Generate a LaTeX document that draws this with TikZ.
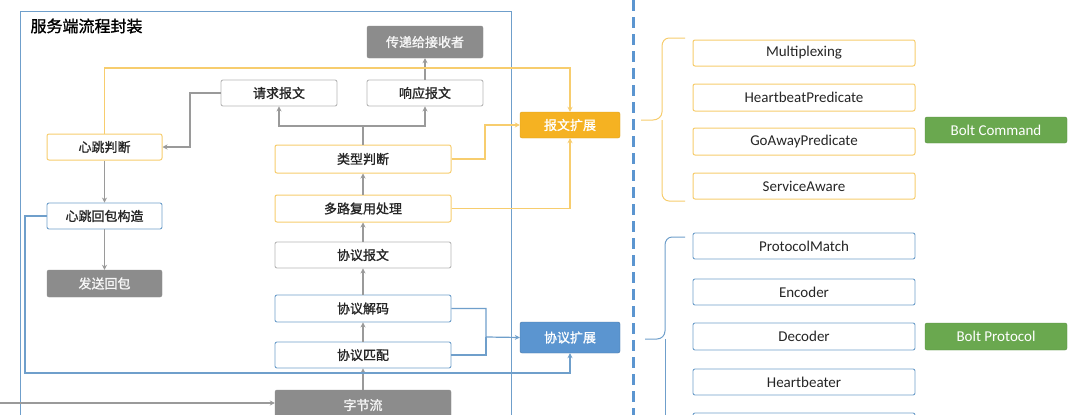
\documentclass[tikz,border=0pt]{standalone}
\usepackage{fontspec}
\setmainfont{Carlito}
\newfontfamily\cjk[FakeBold=1.2]{Noto Sans CJK SC}
\usetikzlibrary{arrows.meta}
\definecolor{gy}{HTML}{9A9A9A}
\definecolor{gyf}{HTML}{8C8C8C}
\definecolor{yl}{HTML}{F7CD6E}
\definecolor{org}{HTML}{F5B222}
\definecolor{bl}{HTML}{6F9FCB}
\definecolor{blf}{HTML}{5B95D0}
\definecolor{gr}{HTML}{6AA84F}
\tikzset{
 box/.style={draw, rounded corners=2pt, fill=white, inner sep=0pt, font=\cjk\fontsize{13}{13}\selectfont, text=black!85},
 ybox/.style={box, draw=yl, line width=1pt},
 bbox/.style={box, draw=bl, line width=0.9pt},
 kbox/.style={box, draw=gy!70, line width=0.9pt},
 gbox/.style={box, draw=gyf, fill=gyf, text=white!92!gyf},
 efont/.style={font=\fontsize{15}{15}\selectfont},
 garr/.style={draw=gy, line width=1.4pt, -{Stealth[length=5pt,width=5pt]}},
 yarr/.style={draw=yl, line width=1.2pt, -{Stealth[length=5pt,width=5pt]}},
 barr/.style={draw=bl, line width=1.2pt, -{Stealth[length=5pt,width=5pt]}},
}
\newcommand{\bx}[7]{\node[#1, minimum width=#4-#2, minimum height=#5-#3] (#6) at ({(#2+#4)/2},{(#3+#5)/2}) {#7};}
\begin{document}
\begin{tikzpicture}[x=1pt,y=-1pt]
\useasboundingbox[fill=white] (0,0) rectangle (1080,415);
% outer frame
\draw[bl, line width=1pt] (20,430) -- (20,11) -- (511,11) -- (511,430);
\node[anchor=west, font=\cjk\fontsize{16}{16}\selectfont] (title) at (27,26) {服务端流程封装};
\draw[blf, line width=3pt, dash pattern=on 11pt off 6pt] (633,0) -- (633,415);
% nodes
\bx{gbox}{367}{26}{483}{58}{recv}{传递给接收者}
\bx{kbox}{221}{80}{337}{106}{req}{请求报文}
\bx{kbox}{367}{80}{483}{106}{resp}{响应报文}
\bx{ybox}{47}{134}{162}{160}{hb}{心跳判断}
\bx{ybox}{275}{145}{451}{173}{typ}{类型判断}
\bx{bbox}{47}{203}{162}{229}{hbr}{心跳回包构造}
\bx{ybox}{275}{195}{451}{222}{mux}{多路复用处理}
\bx{kbox}{275}{242}{451}{268}{pm}{协议报文}
\bx{gbox}{47}{270}{162}{297}{send}{发送回包}
\bx{bbox}{275}{295}{451}{322}{dec}{协议解码}
\bx{bbox}{275}{342}{451}{368}{mat}{协议匹配}
\bx{gbox}{275}{390}{451}{420}{bytes}{字节流}
\bx{box, draw=org!90!black, fill=org, text=white}{520}{112}{620}{138}{msgx}{报文扩展}
\bx{box, draw=blf!80!black, fill=blf, text=white}{520}{322}{620}{353}{prox}{协议扩展}
% right side
\bx{ybox, efont}{693}{40}{915}{66}{r1}{Multiplexing}
\bx{ybox, efont}{693}{84}{915}{111}{r2}{HeartbeatPredicate}
\bx{ybox, efont}{693}{128}{915}{155}{r3}{GoAwayPredicate}
\bx{ybox, efont}{693}{173}{915}{199}{r4}{ServiceAware}
\bx{bbox, efont}{693}{233}{915}{259}{p1}{ProtocolMatch}
\bx{bbox, efont}{693}{279}{915}{305}{p2}{Encoder}
\bx{bbox, efont}{693}{323}{915}{350}{p3}{Decoder}
\bx{bbox, efont}{693}{369}{915}{395}{p4}{Heartbeater}
\bx{bbox, efont}{693}{413}{915}{439}{p5}{}
\bx{box, draw=gr!85!black, fill=gr, text=white, efont}{925}{117}{1067}{143}{bc}{Bolt Command}
\bx{box, draw=gr!85!black, fill=gr, text=white, efont}{925}{323}{1067}{350}{bp}{Bolt Protocol}
% brackets
\coordinate (yb) at (641,120);
\draw[yl, line width=1pt] (685,38) -- (669,38) to[out=180,in=90] (662,46) -- (662,112) to[out=-90,in=0] (653,120) -- (yb);
\draw[yl, line width=1pt] (662,120) -- (662,193) to[out=-90,in=180] (669,201) -- (685,201);
\coordinate (bb) at (645,339);
\draw[bl, line width=1pt] (685,237) -- (672,237) to[out=180,in=90] (665,245) -- (665,331) to[out=-90,in=0] (657,339) -- (bb);
\draw[bl, line width=1pt] (665,339) -- (665,415);
% gray flow
\draw[garr] (bytes) -- (mat);
\draw[garr] (mat) -- (dec);
\draw[garr] (dec) -- (pm);
\draw[garr] (pm) -- (mux);
\draw[garr] (mux) -- (typ);
\draw[garr] (typ.north) -- (363,126) -| (req.south);
\draw[garr] (typ.north) -- (363,126) -| (resp.south);
\draw[garr] (resp) -- (recv);
\draw[garr] (req.west) -| (190,147) -- (hb.east);
\draw[garr] (hb) -- (hbr);
\draw[garr] (hbr) -- (send);
\coordinate (lin) at (0,403);
\draw[garr] (lin) -- (bytes.west |- lin);
% yellow
\draw[yarr] (hb.north) |- (570,68) -- (msgx.north);
\draw[yarr] (typ.east) -| (485,125) -- (msgx.west);
\draw[yarr] (mux.east) -| (msgx.south);
% blue
\draw[barr] (dec.east) -| (486,337) -- (prox.west);
\draw[bl, line width=1.2pt] (mat.east) -| (486,337);
\draw[barr] (hbr.west) -| (25,373) -| (prox.south);
\end{tikzpicture}
\end{document}
